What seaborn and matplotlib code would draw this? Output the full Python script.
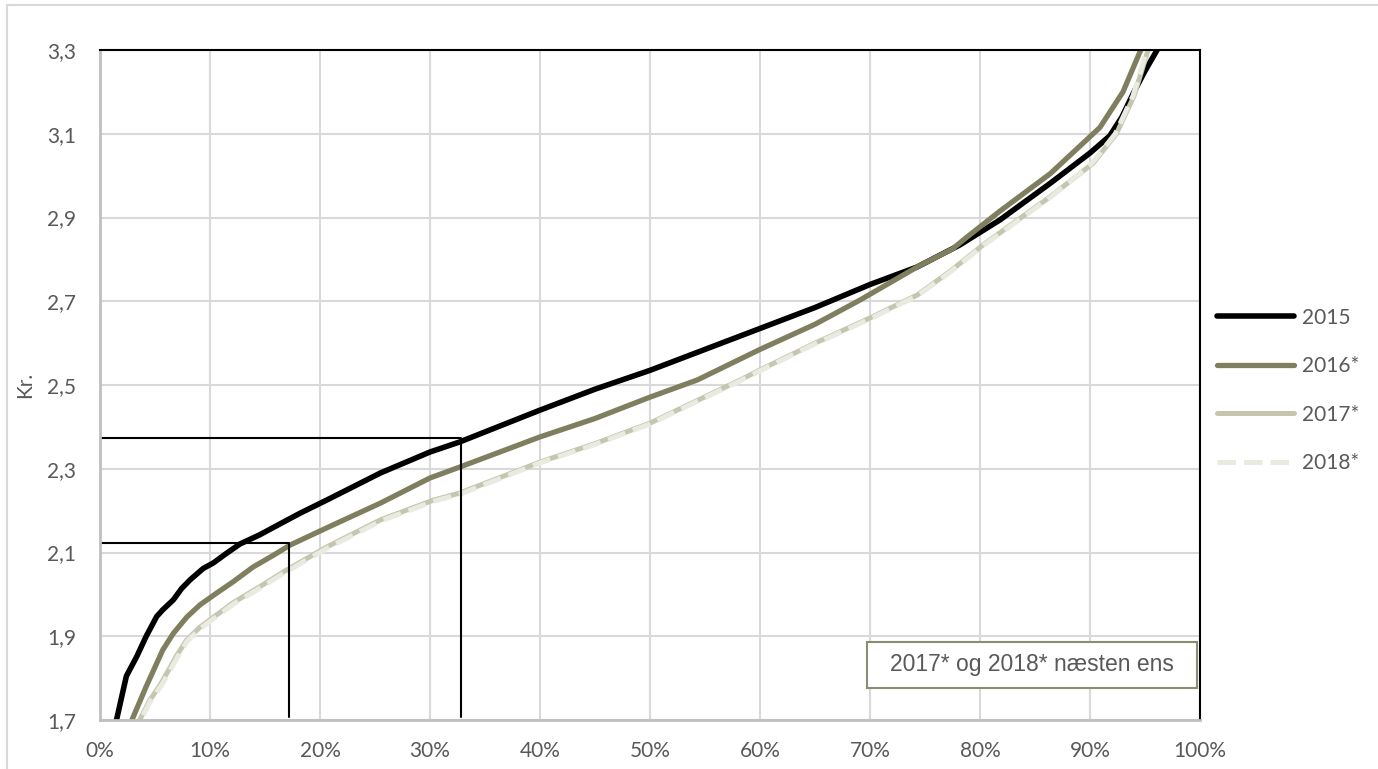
import matplotlib
matplotlib.use("Agg")
import matplotlib.pyplot as plt
import matplotlib.ticker as mticker
from matplotlib.patches import Rectangle
import seaborn as sns
import pandas as pd

sns.set_theme(style="white")
plt.rcParams['font.family'] = ['Lato', 'DejaVu Sans']

# share of observations (%) vs price (kr.)
x_2015 = [1.3, 1.5, 1.97, 2.4, 3.33, 4.2, 5.15, 5.7, 6.67, 7.42, 8.2, 9.39, 10.3, 11.5, 12.7, 14.5, 16.7, 18.2,
          20.6, 25.5, 30, 32.7, 40, 45, 50, 55, 60, 65, 70, 74.3, 78.2, 81.8, 86.4, 90, 91.8, 92.9,
          94, 95, 96.1, 96.5]
y_2015 = [1.65, 1.70, 1.755, 1.805, 1.851, 1.90, 1.947, 1.963, 1.987, 2.014, 2.035, 2.062, 2.075, 2.098, 2.12,
          2.142, 2.173, 2.194, 2.225, 2.29, 2.34, 2.364, 2.44, 2.49, 2.535, 2.585, 2.635, 2.685, 2.74,
          2.782, 2.835, 2.894, 2.982, 3.054, 3.095, 3.14, 3.2, 3.25, 3.3, 3.32]

x_2016 = [2.5, 2.9, 4.2, 5.15, 5.7, 6.67, 7.9, 9.09, 10.6, 12.1, 13.9, 15.8, 17.3, 21.2, 25.5, 30, 32.7,
          40, 45, 50, 54.3, 60, 65, 69.1, 74.3, 77.5, 78.8, 81.8, 86.4, 90.9, 93, 94.5, 95]
y_2016 = [1.64, 1.70, 1.78, 1.835, 1.867, 1.907, 1.946, 1.975, 2.003, 2.03, 2.065, 2.094, 2.118, 2.166,
          2.218, 2.278, 2.304, 2.376, 2.42, 2.471, 2.512, 2.585, 2.645, 2.703, 2.782, 2.825, 2.853,
          2.915, 3.005, 3.115, 3.2, 3.293, 3.32]

x_2017 = [3.3, 3.6, 4.55, 5.5, 7, 7.88, 9.1, 10.6, 12.1, 14.5, 16.7, 20.6, 25.5, 30.3, 32.7, 40, 45,
          50, 58.2, 60, 65, 70, 74.3, 77.3, 80.3, 86.4, 90.3, 92.4, 94, 95.2, 95.6]
y_2017 = [1.65, 1.70, 1.748, 1.785, 1.855, 1.891, 1.922, 1.951, 1.98, 2.018, 2.054, 2.113, 2.178, 2.225,
          2.242, 2.316, 2.36, 2.409, 2.512, 2.536, 2.6, 2.66, 2.715, 2.772, 2.835, 2.95, 3.03, 3.10,
          3.19, 3.293, 3.32]

x_2018 = [3.4, 3.7, 4.6, 5.6, 7.1, 7.95, 9.2, 10.7, 12.2, 14.6, 16.8, 20.7, 25.6, 30.4, 32.8, 40, 45,
          50, 58.2, 60, 65, 70, 74.3, 77.3, 80.3, 86.4, 90.2, 92.3, 93.9, 95.1, 95.5]
y_2018 = [1.65, 1.70, 1.746, 1.783, 1.853, 1.889, 1.92, 1.949, 1.978, 2.016, 2.052, 2.111, 2.176, 2.223,
          2.240, 2.314, 2.358, 2.407, 2.510, 2.534, 2.598, 2.658, 2.713, 2.77, 2.833, 2.948, 3.03, 3.10,
          3.19, 3.293, 3.32]

# guide lines (percentile markers)
guide_hi_x = [0, 32.8, 32.8]
guide_hi_y = [2.373, 2.373, 1.708]
guide_lo_x = [0, 17.2, 17.2]
guide_lo_y = [2.122, 2.122, 1.708]

series = [
    ("2015", x_2015, y_2015, "#000000", "-", 4.0),
    ("2016*", x_2016, y_2016, "#7f7f5f", "-", 3.8),
    ("2017*", x_2017, y_2017, "#c6c6b0", "-", 3.6),
    ("2018*", x_2018, y_2018, "#e9ebe1", "--", 3.6),
]

fig = plt.figure(figsize=(13.78, 7.69), dpi=100)
ax = fig.add_axes([100 / 1378, 1 - 720 / 769, 1100 / 1378, 670 / 769])

txt_color = "#595959"
fs = 15

ax.grid(True, color="#d9d9d9", lw=1.5)
ax.set_axisbelow(True)

for name, xs, ys, col, ls, lw in series:
    df = pd.DataFrame({"x": xs, "y": ys})
    if ls == "--":
        sns.lineplot(data=df, x="x", y="y", ax=ax, color=col, lw=lw, sort=False,
                     estimator=None, label=name, linestyle=(0, (3.7, 1.6)))
    else:
        sns.lineplot(data=df, x="x", y="y", ax=ax, color=col, lw=lw, sort=False,
                     estimator=None, label=name)

ax.plot(guide_hi_x, guide_hi_y, color="black", lw=1.5)
ax.plot(guide_lo_x, guide_lo_y, color="black", lw=1.5)

ax.set_xlim(0, 100)
ax.set_ylim(1.7, 3.3)
ax.xaxis.set_major_locator(mticker.MultipleLocator(10))
ax.yaxis.set_major_locator(mticker.FixedLocator([1.7, 1.9, 2.1, 2.3, 2.5, 2.7, 2.9, 3.1, 3.3]))
ax.xaxis.set_major_formatter(mticker.FuncFormatter(lambda v, p: f"{v:.0f}%"))
ax.yaxis.set_major_formatter(mticker.FuncFormatter(lambda v, p: f"{v:.1f}".replace(".", ",")))
ax.tick_params(axis="both", length=0, labelsize=fs, labelcolor=txt_color)
ax.tick_params(axis="x", pad=15)
ax.tick_params(axis="y", pad=17)
ax.set_xlabel("")
ax.set_ylabel("")

for side in ["top", "right"]:
    ax.spines[side].set_color("black")
    ax.spines[side].set_linewidth(1.5)
for side in ["left", "bottom"]:
    ax.spines[side].set_color("#bfbfbf")
    ax.spines[side].set_linewidth(2)

ax.get_legend().remove()
handles, labels = ax.get_legend_handles_labels()
leg = fig.legend(handles, labels, loc="center left", bbox_to_anchor=(1217 / 1378, 1 - 390.5 / 769),
                 frameon=False, fontsize=fs, handlelength=3.7, handletextpad=0.38,
                 labelspacing=1.37, borderpad=0, borderaxespad=0)
for t in leg.get_texts():
    t.set_color(txt_color)

fig.text(25 / 1378, 1 - 385 / 769, "Kr.", rotation=90, ha="center", va="center",
         fontsize=fs, color=txt_color)

# note box
ax.add_patch(Rectangle((767 / 1100, 32 / 670), 330 / 1100, 46 / 670, transform=ax.transAxes,
                       fc="white", ec="#8c8c6e", lw=1.5, zorder=5))
ax.text(932 / 1100, 55 / 670, "2017* og 2018* næsten ens", transform=ax.transAxes,
        ha="center", va="center", fontsize=16.5, color=txt_color,
        family=["Liberation Sans", "DejaVu Sans"], zorder=6)

# light chart frame
fig.add_artist(plt.Line2D([7 / 1378, 7 / 1378], [0, 1 - 5 / 769], color="#d9d9d9", lw=1.5))
fig.add_artist(plt.Line2D([7 / 1378, 1], [1 - 5 / 769, 1 - 5 / 769], color="#d9d9d9", lw=1.5))

fig.savefig("out.png", dpi=100)
